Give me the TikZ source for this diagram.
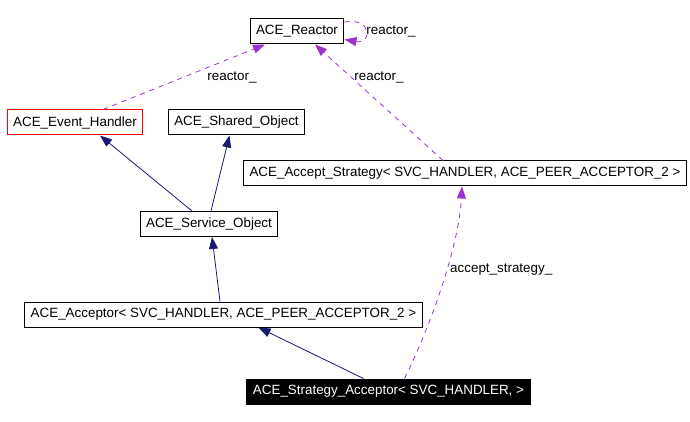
\documentclass[tikz,border=0pt]{standalone}
\usepackage{fontspec}
\setmainfont{Liberation Sans}
\usetikzlibrary{arrows.meta}

\definecolor{inhcol}{HTML}{191970}
\definecolor{refcol}{HTML}{9A32CD}

\begin{document}
\begin{tikzpicture}[x=1pt, y=-1pt,
	cls/.style={draw=black, line width=1pt, fill=white, minimum height=25pt, inner xsep=6pt, inner ysep=0pt, font=\fontsize{13.4}{15}\selectfont},
	lbl/.style={inner sep=0pt, font=\fontsize{13.4}{15}\selectfont},
	inh/.style={draw=inhcol, line width=0.8pt, -{Triangle[length=12pt,width=9pt,fill=inhcol]}},
	refl/.style={draw=refcol, line width=0.8pt, dash pattern=on 5pt off 5pt, -{Triangle[length=12pt,width=9pt,fill=refcol]}}]
	\useasboundingbox (0,0) rectangle (690,422);

	\node[cls] (reactor) at (297, 31.5) {ACE\_Reactor};
	\node[cls, draw=red] (handler) at (75, 122.5) {ACE\_Event\_Handler};
	\node[cls] (shared) at (236.5, 122.5) {ACE\_Shared\_Object};
	\node[cls] (service) at (209, 224) {ACE\_Service\_Object};
	\node[cls] (strategy) at (465, 173.5) {ACE\_Accept\_Strategy< SVC\_HANDLER, ACE\_PEER\_ACCEPTOR\_2 >};
	\node[cls] (acceptor) at (223.5, 314.5) {ACE\_Acceptor< SVC\_HANDLER, ACE\_PEER\_ACCEPTOR\_2 >};
	\node[cls, fill=black, text=white] (stracc) at (388.5, 391.5) {ACE\_Strategy\_Acceptor< SVC\_HANDLER, >};

	% inheritance
	\draw[inh] ([xshift=-17pt]service.north) -- ([xshift=25pt]handler.south);
	\draw[inh] ([xshift=2pt]service.north) -- ([xshift=-7pt]shared.south);
	\draw[inh] ([xshift=-3.5pt]acceptor.north) -- ([xshift=3pt]service.south);
	\draw[inh] ([xshift=-25pt]stracc.north) -- ([xshift=35pt]acceptor.south);

	% usage
	\draw[refl] ([xshift=16pt]stracc.north) .. controls +(25,-50) and +(-3,60) .. ([xshift=-3pt]strategy.south);
	\draw[refl] ([xshift=-22pt]strategy.north) -- ([xshift=18pt]reactor.south);
	\draw[refl] ([xshift=28pt]handler.north) -- ([xshift=-32pt]reactor.south);
	\draw[refl] ([yshift=-3.5pt]reactor.north east) .. controls +(28,-5) and +(28,5) .. ([yshift=5pt]reactor.south east);

	\node[lbl, anchor=west] (lstrategy) at (450, 270) {accept\_strategy\_};
	\node[lbl] (lreact1) at (379, 78) {reactor\_};
	\node[lbl] (lreact2) at (232, 78) {reactor\_};
	\node[lbl] (lreact3) at (391, 32) {reactor\_};

\end{tikzpicture}
\end{document}
